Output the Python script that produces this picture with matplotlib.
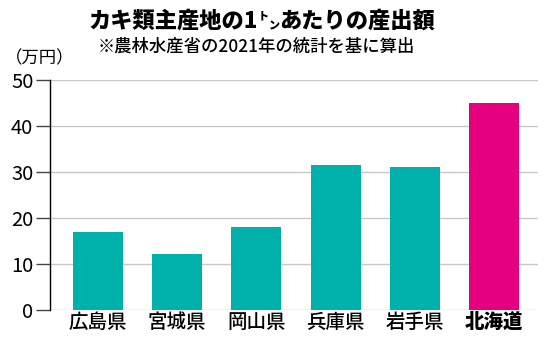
import matplotlib
matplotlib.use("Agg")
from matplotlib import pyplot as plt

plt.rcParams["font.family"] = ["Noto Sans CJK JP", "DejaVu Sans"]

prefectures = ["広島県", "宮城県", "岡山県", "兵庫県", "岩手県", "北海道"]
values = [17.0, 12.2, 18.1, 31.5, 31.1, 44.9]
colors = ["#00b0aa"] * 5 + ["#e4007f"]
yticks = [0, 10, 20, 30, 40, 50]

W, H = 550, 352
fig = plt.figure(figsize=(W / 100, H / 100), dpi=100)
ax = fig.add_axes([50 / W, 1 - 310 / H, 488 / W, 230 / H])

ax.bar(range(len(values)), values, width=0.63, color=colors, zorder=3)
ax.set_xlim(-0.6, 5.55)
ax.set_ylim(0, 50)
ax.set_yticks(yticks)
ax.yaxis.grid(True, color="#c8c8c8", linewidth=1.0, zorder=0)
ax.set_axisbelow(True)

for side in ["top", "right", "bottom"]:
    ax.spines[side].set_visible(False)
ax.spines["left"].set_color("black")
ax.spines["left"].set_linewidth(1.0)
ax.spines["left"].set_zorder(4)

ax.tick_params(axis="y", length=10, width=1, color="#444444", pad=2,
               labelsize=14.5)
ax.tick_params(axis="x", length=0, pad=2, labelsize=14)
ax.set_xticks(range(len(prefectures)))
ax.set_xticklabels(prefectures)
for lab in ax.get_xticklabels():
    lab.set_fontweight("medium")
ax.get_xticklabels()[-1].set_fontweight("heavy")

# title with small ト (raised) and ン (lowered), placed piece by piece
renderer = fig.canvas.get_renderer()
pieces = [("カキ類主産地の1", 16, 0), ("ト", 8, 8), ("ン", 8, -1),
          ("あたりの産出額", 16, 0)]
x = 88
base = 28
for s, size, dy in pieces:
    t = fig.text(x / W, 1 - (base - dy) / H, s, fontsize=size,
                 fontweight="heavy", ha="left", va="baseline")
    x += t.get_window_extent(renderer).width

fig.text(256 / W, 1 - 47 / H, "※農林水産省の2021年の統計を基に算出",
         fontsize=12.5, fontweight="medium", ha="center", va="center")
fig.text(5 / W, 1 - 58 / H, "（万円）", fontsize=12.5, ha="left",
         va="center")

fig.savefig("out.png", dpi=100)
